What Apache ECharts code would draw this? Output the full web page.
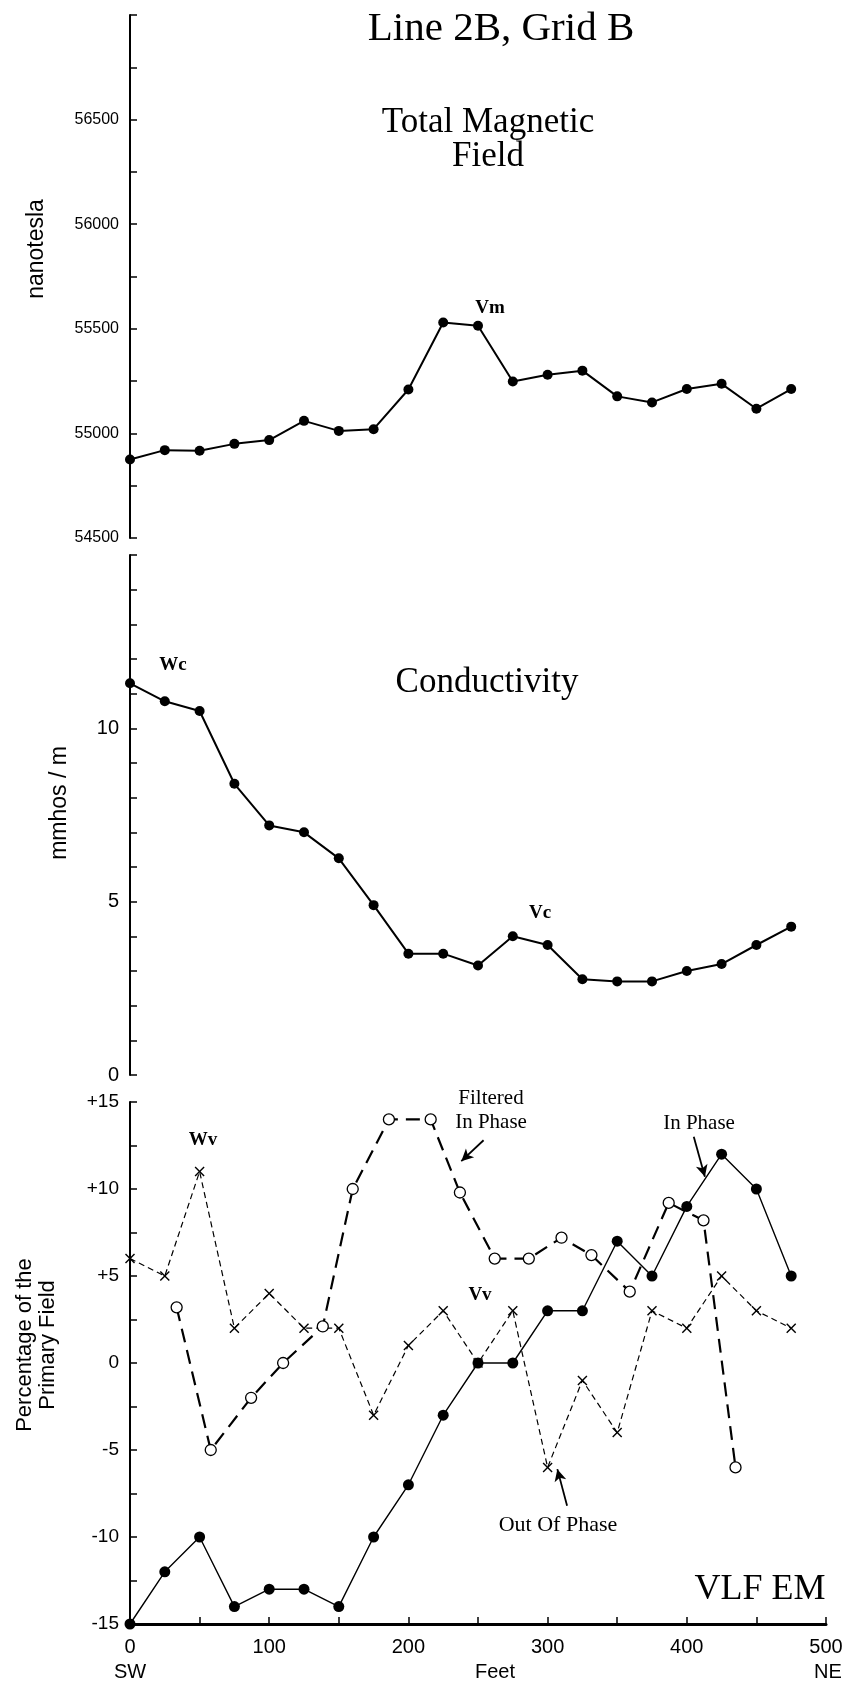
<!DOCTYPE html>
<html>
<head>
<meta charset="utf-8">
<script src="https://cdn.jsdelivr.net/npm/echarts@6/dist/echarts.min.js"></script>
<style>
html,body{margin:0;padding:0;background:#fff;}
#chart{width:849px;height:1687px;}
</style>
</head>
<body>
<div id="chart"></div>
<script>
// ---- data ----
const feet = [0,25,50,75,100,125,150,175,200,225,250,275,300,325,350,375,400,425,450,475];
const magnetic = [54875,54920,54917,54950,54968,55060,55012,55020,55210,55530,55515,55248,55280,55300,55177,55148,55212,55237,55118,55212];
const conductivity = [11.3,10.78,10.5,8.4,7.2,7.0,6.25,4.9,3.5,3.5,3.16,4.0,3.75,2.76,2.7,2.7,3.0,3.2,3.75,4.28];
const inPhase = [-15,-12,-10,-14,-13,-13,-14,-10,-7,-3,0,0,3,3,7,5,9,12,10,5];
const outOfPhase = [6,5,11,2,4,2,2,-3,1,3,0,3,-6,-1,-4,3,2,5,3,2];
const filteredFeet = [33.5,58,87,110,138.5,160,186,216,237,262,286.5,310,331.5,359,387,412,435];
const filteredInPhase = [3.2,-5,-2,0,2.1,10,14,14,9.8,6,6,7.2,6.2,4.1,9.2,8.2,-6];
const xTicks = [0,100,200,300,400,500];
// annotation arrows in data space [fromFeet, fromValue, toFeet, toValue]
const arrowFiltered = [254,12.8,238,11.6];
const arrowInPhase = [405,13.0,413,10.7];
const arrowOutPhase = [314,-8.2,307,-6.1];

const pair = (xs, ys) => xs.map((x, i) => [x, ys[i]]);

const SERIF = "'Liberation Serif','Times New Roman',serif";
const SANS = "'Liberation Sans Narrow','Arial Narrow','Liberation Sans',sans-serif";
const SANSW = "'Liberation Sans',Arial,sans-serif";
const XSYM = 'path://M0,1L1,0L5,4L9,0L10,1L6,5L10,9L9,10L5,6L1,10L0,9L4,5Z';

const chart = echarts.init(document.getElementById('chart'), null, {renderer:'canvas'});

function yAxisBase(gi, min, max, interval, fmt, fontSize){
  return {
    type:'value', gridIndex:gi, min:min, max:max, interval:interval,
    axisLine:{show:true, onZero:false, lineStyle:{color:'#000', width:2}},
    axisTick:{show:true, inside:true, length:7, lineStyle:{color:'#000', width:1.5}},
    axisLabel:{show:true, margin:11, color:'#000', fontFamily:SANS, fontSize:fontSize, formatter:fmt},
    splitLine:{show:false}
  };
}
function hiddenX(gi){
  return {type:'value', gridIndex:gi, min:0, max:500, show:false, splitLine:{show:false}};
}

const option = {
  backgroundColor:'#fff',
  animation:false,
  grid:[
    {left:130, right:23, top:15, height:523},
    {left:130, right:23, top:555, height:520},
    {left:130, right:23, top:1102, height:522}
  ],
  xAxis:[
    hiddenX(0), hiddenX(1),
    {
      type:'value', gridIndex:2, min:0, max:500, interval:50,
      axisLine:{show:true, onZero:false, lineStyle:{color:'#000', width:3}},
      axisTick:{show:true, inside:true, length:7, lineStyle:{color:'#000', width:1.5}},
      axisLabel:{show:true, margin:13, color:'#000', fontFamily:SANS, fontSize:20,
        formatter:v => xTicks.indexOf(v) >= 0 ? String(v) : ''},
      splitLine:{show:false}
    }
  ],
  yAxis:[
    yAxisBase(0, 54500, 57000, 250, v => (v % 500 === 0 && v < 57000) ? String(v) : '', 16),
    yAxisBase(1, 0, 15, 1, v => (v % 5 === 0 && v < 15) ? String(v) : '', 20),
    yAxisBase(2, -15, 15, 2.5, v => v % 5 === 0 ? (v > 0 ? '+' + v : String(v)) : '', 19)
  ],
  series:[
    {
      type:'line', xAxisIndex:0, yAxisIndex:0, data:pair(feet, magnetic),
      symbol:'circle', symbolSize:10, lineStyle:{color:'#000', width:2},
      itemStyle:{color:'#000'}, z:3
    },
    {
      type:'line', xAxisIndex:1, yAxisIndex:1, data:pair(feet, conductivity),
      symbol:'circle', symbolSize:10, lineStyle:{color:'#000', width:2},
      itemStyle:{color:'#000'}, z:3
    },
    {
      name:'Out Of Phase', type:'line', xAxisIndex:2, yAxisIndex:2, data:pair(feet, outOfPhase),
      symbol:XSYM, symbolSize:10, lineStyle:{color:'#000', width:1.2, type:[6,4]},
      itemStyle:{color:'#000'}, z:3,
      markLine:{silent:true, symbol:['none','arrow'], symbolSize:[9,12], label:{show:false},
        lineStyle:{color:'#000', width:1.8, type:'solid'},
        data:[[{coord:[arrowOutPhase[0],arrowOutPhase[1]]},{coord:[arrowOutPhase[2],arrowOutPhase[3]]}]]}
    },
    {
      name:'Filtered In Phase', type:'line', xAxisIndex:2, yAxisIndex:2, data:pair(filteredFeet, filteredInPhase),
      symbol:'circle', symbolSize:11, lineStyle:{color:'#000', width:2.2, type:[14,8]},
      itemStyle:{color:'#fff', borderColor:'#000', borderWidth:1.3}, z:4,
      markLine:{silent:true, symbol:['none','arrow'], symbolSize:[9,12], label:{show:false},
        lineStyle:{color:'#000', width:1.8, type:'solid'},
        data:[[{coord:[arrowFiltered[0],arrowFiltered[1]]},{coord:[arrowFiltered[2],arrowFiltered[3]]}]]}
    },
    {
      name:'In Phase', type:'line', xAxisIndex:2, yAxisIndex:2, data:pair(feet, inPhase),
      symbol:'circle', symbolSize:11, lineStyle:{color:'#000', width:1.4},
      itemStyle:{color:'#000'}, z:5,
      markLine:{silent:true, symbol:['none','arrow'], symbolSize:[9,12], label:{show:false},
        lineStyle:{color:'#000', width:1.8, type:'solid'},
        data:[[{coord:[arrowInPhase[0],arrowInPhase[1]]},{coord:[arrowInPhase[2],arrowInPhase[3]]}]]}
    }
  ],
  graphic:[]
};

function txt(text, x, y, font, lh){
  return {
    type:'text', x:x, y:y, silent:true, z:10,
    style:{text:text, font:font, fill:'#000', textAlign:'center', textVerticalAlign:'middle', lineHeight:lh || undefined}
  };
}
function vtxt(text, x, y, font, lh){
  return {
    type:'text', x:x, y:y, rotation:Math.PI/2, silent:true, z:10,
    style:{text:text, font:font, fill:'#000', textAlign:'center', textVerticalAlign:'middle', lineHeight:lh}
  };
}

option.graphic = [
  txt('Line 2B, Grid B', 501, 29, '41px ' + SERIF),
  txt('Total Magnetic\nField', 488, 140, '35px ' + SERIF, 34),
  txt('Vm', 490, 308, 'bold 19px ' + SERIF),
  vtxt('nanotesla', 37, 249, '23px ' + SANSW, 24),
  txt('Conductivity', 487, 683, '35px ' + SERIF),
  txt('Wc', 173, 665, 'bold 19px ' + SERIF),
  txt('Vc', 540, 913, 'bold 19px ' + SERIF),
  vtxt('mmhos / m', 60, 803, '23px ' + SANSW, 24),
  txt('Filtered\nIn Phase', 491, 1110, '21px ' + SERIF, 24),
  txt('In Phase', 699, 1123, '21px ' + SERIF),
  txt('Wv', 203, 1140, 'bold 19px ' + SERIF),
  txt('Vv', 480, 1295, 'bold 19px ' + SERIF),
  txt('Out Of Phase', 558, 1525, '22px ' + SERIF),
  txt('VLF EM', 760, 1590, '36px ' + SERIF),
  vtxt('Percentage of the\nPrimary Field', 36, 1345, '22px ' + SANSW, 23),
  txt('SW', 130, 1672, '20px ' + SANS),
  txt('Feet', 495, 1672, '20px ' + SANS),
  txt('NE', 828, 1672, '20px ' + SANS)
];

chart.setOption(option);
</script>
</body>
</html>
